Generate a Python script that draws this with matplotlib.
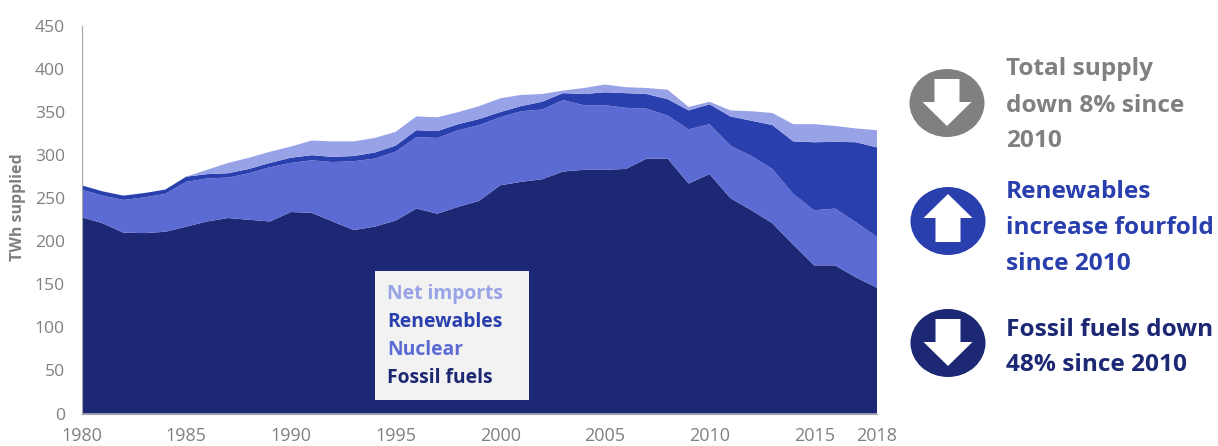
import matplotlib
matplotlib.use("Agg")
import matplotlib.pyplot as plt
from matplotlib.patches import Ellipse, Polygon, Rectangle

plt.rcParams['font.family'] = ['Open Sans', 'DejaVu Sans']

years = list(range(1980, 2019))
fossil = [228, 221, 210, 209.5, 211, 217, 223, 227, 225, 223, 234, 233, 223, 213, 217, 224, 238, 232, 240, 247,
          265, 269, 272, 281, 283, 283, 284, 296, 296, 267, 278, 250, 236, 221, 196, 172, 172, 158, 146]
nuclear = [32, 32, 38, 41.5, 44, 52, 50, 47, 54, 63, 57, 61, 69, 80, 79, 80, 83, 88, 89, 88,
           79, 82, 81, 83, 75, 75, 71, 58, 50, 63, 58, 61, 63, 63, 59, 64, 66, 64, 59]
renewables = [5, 5, 5, 5, 5, 6, 5, 5, 5, 5, 6, 6, 6, 6, 7, 7, 8, 8, 7, 7,
              6, 6, 9, 8, 13, 15, 17, 17, 19, 22, 23, 34, 41, 51, 61, 79, 77.5, 93, 104]
imports = [0, 0, 0, 0, 0, 0, 5, 12, 13, 13, 13, 17, 18, 17, 17, 16, 16, 16, 14, 15,
           16, 13, 9, 3, 7, 9, 7, 7, 11, 4, 3, 7, 11, 14, 20, 21, 18.5, 16, 20]
x_ticks = [1980, 1985, 1990, 1995, 2000, 2005, 2010, 2015, 2018]
y_ticks = [0, 50, 100, 150, 200, 250, 300, 350, 400, 450]
legend_labels = ["Net imports", "Renewables", "Nuclear", "Fossil fuels"]

NAVY, BLUE, MID, LIGHT, GREY = "#1D2874", "#2A3FAE", "#5C6BD3", "#98A2E6", "#808080"
W, H = 1218, 446

fig = plt.figure(figsize=(W / 100, H / 100), dpi=100, facecolor="white")
ax = fig.add_axes([81.5 / W, (H - 413.5) / H, (877 - 81.5) / W, (413.5 - 26) / H])
ax.stackplot(years, fossil, nuclear, renewables, imports,
             colors=[NAVY, MID, BLUE, LIGHT], linewidth=0)
ax.set_xlim(1980, 2018)
ax.set_ylim(0, 450)
ax.set_xticks(x_ticks)
ax.set_yticks(y_ticks)
ax.tick_params(length=0, labelcolor=GREY)
ax.tick_params(axis='y', pad=12, labelsize=12.6)
ax.tick_params(axis='x', pad=10, labelsize=13)
for s in ("top", "right"):
    ax.spines[s].set_visible(False)
for s in ("left", "bottom"):
    ax.spines[s].set_color("#A6A6A6")
    ax.spines[s].set_linewidth(0.8)

# overlay in pixel coordinates for the annotation graphics
ov = fig.add_axes([0, 0, 1, 1], facecolor="none")
ov.set_xlim(0, W)
ov.set_ylim(H, 0)
ov.axis("off")

ov.text(18, 207, "TWh supplied", rotation=90, color=GREY, fontsize=11.5,
        fontweight="bold", ha="center", va="center")

ov.add_patch(Rectangle((375, 270.5), 154, 129, facecolor="#F2F2F2", edgecolor="none"))
for label, col, y in zip(legend_labels, [LIGHT, BLUE, MID, NAVY], [298.5, 326.8, 355, 383]):
    ov.text(387, y, label, color=col, fontsize=13.9, fontweight="bold", ha="left", va="baseline")

def badge(cx, cy, col, up, lines, ys):
    ov.add_patch(Ellipse((cx, cy), 75, 68, facecolor=col, edgecolor="none"))
    hw, sw = 12.5, 24.5
    if up:
        pts = [(cx, cy - 27), (cx + sw, cy - 3), (cx + hw, cy - 3), (cx + hw, cy + 21),
               (cx - hw, cy + 21), (cx - hw, cy - 3), (cx - sw, cy - 3)]
    else:
        pts = [(cx, cy + 23), (cx + sw, cy - 1), (cx + hw, cy - 1), (cx + hw, cy - 24),
               (cx - hw, cy - 24), (cx - hw, cy - 1), (cx - sw, cy - 1)]
    ov.add_patch(Polygon(pts, closed=True, facecolor="white", edgecolor="none"))
    for t, y in zip(lines, ys):
        ov.text(1006, y, t, color=col, fontsize=17.6, fontweight="bold", ha="left", va="baseline")

badge(947, 103, GREY, False, ["Total supply", "down 8% since", "2010"], [75, 111.5, 146.7])
badge(948, 221, BLUE, True, ["Renewables", "increase fourfold", "since 2010"], [198, 234, 270])
badge(948, 343, NAVY, False, ["Fossil fuels down", "48% since 2010"], [335.7, 370.7])

fig.savefig("out.png", dpi=100)
